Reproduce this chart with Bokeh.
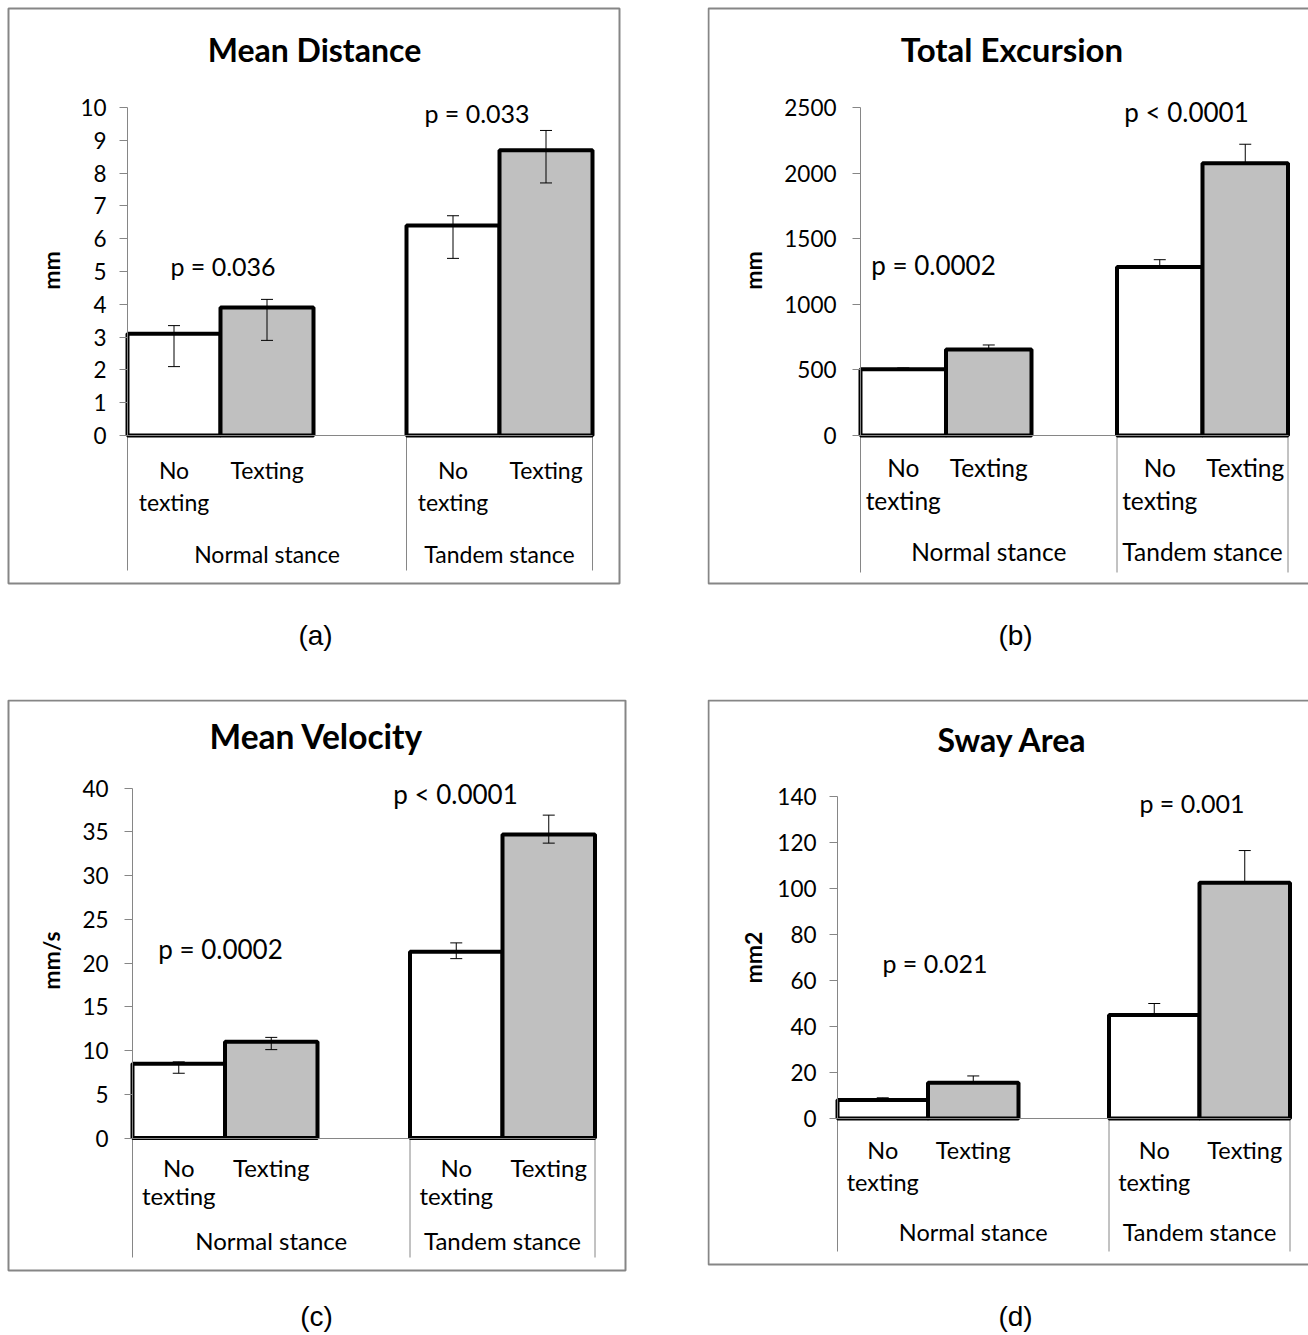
import math
from bokeh.plotting import figure
from bokeh.models import (Range1d, LinearAxis, FixedTicker, ColumnDataSource,
                          Whisker, TeeHead, BoxAnnotation)
from bokeh.layouts import row, column
from bokeh.core.properties import value
from bokeh.embed import file_html
from bokeh.resources import INLINE

# ---------------- data ----------------
stances = ["Normal stance", "Tandem stance"]
conditions = ["No texting", "Texting"]
group_slots = [3, 2]          # category slots per stance group (as drawn)

dist_title = "Mean Distance"
dist_unit = "mm"
dist_mean = [3.1, 3.9, 6.4, 8.7]
dist_low = [2.1, 2.9, 5.4, 7.7]
dist_high = [3.35, 4.15, 6.7, 9.3]
dist_ticks = [0, 1, 2, 3, 4, 5, 6, 7, 8, 9, 10]
dist_p = ["p = 0.036", "p = 0.033"]

exc_title = "Total Excursion"
exc_unit = "mm"
exc_mean = [505, 655, 1285, 2075]
exc_low = [505, 655, 1285, 2075]
exc_high = [515, 690, 1340, 2220]
exc_ticks = [0, 500, 1000, 1500, 2000, 2500]
exc_p = ["p = 0.0002", "p < 0.0001"]

vel_title = "Mean Velocity"
vel_unit = "mm/s"
vel_mean = [8.5, 11.0, 21.3, 34.7]
vel_low = [7.4, 10.1, 20.5, 33.7]
vel_high = [8.7, 11.5, 22.3, 36.9]
vel_ticks = [0, 5, 10, 15, 20, 25, 30, 35, 40]
vel_p = ["p = 0.0002", "p < 0.0001"]

sway_title = "Sway Area"
sway_unit = "mm2"
sway_mean = [8.0, 15.5, 45.0, 102.5]
sway_low = [8.0, 15.5, 45.0, 102.5]
sway_high = [9.0, 18.5, 50.0, 116.5]
sway_ticks = [0, 20, 40, 60, 80, 100, 120, 140]
sway_p = ["p = 0.021", "p = 0.001"]

captions = ["(a)", "(b)", "(c)", "(d)"]
bar_fills = ["white", "#c0c0c0"]

# ---------------- layout (page pixels) ----------------
GRAY = "#868686"
FONT = "Lato"
SHIFT = 0.43   # baseline correction (fraction of font size)

cfg_a = dict(ox=0, oy=0, W=707, H=699, axis_x=127, unit=93, zero_y=435, ppu=32.8,
             box=(8, 8, 619, 583), title=(314, 63), ylab=(60, 270),
             pv=[(222.5, 276), (476.5, 123)], lab_base=[479, 511], grp_base=563,
             sep_bottom=570, standoff=13, cap=(315, 647),
             fs_title=32, fs_lab=23, fs_p=25, fs_tick=22.5)
cfg_b = dict(ox=707, oy=0, W=601, H=699, axis_x=860, unit=85.5, zero_y=435, ppu=328 / 2500,
             box=(708, 8, 1360, 583), title=(1011.5, 63), ylab=(762, 270),
             pv=[(933, 276), (1186, 123)], lab_base=[478, 511], grp_base=562,
             sep_bottom=572, standoff=16, cap=(1015, 647),
             fs_title=33, fs_lab=24.5, fs_p=26, fs_tick=22.5)
cfg_c = dict(ox=0, oy=699, W=707, H=636, axis_x=132, unit=92.5, zero_y=1137.5, ppu=8.75,
             box=(8, 700, 625, 1270), title=(316, 750), ylab=(60, 960),
             pv=[(220, 960), (455, 805)], lab_base=[1177, 1205], grp_base=1250,
             sep_bottom=1257, standoff=16, cap=(316, 1328),
             fs_title=33.5, fs_lab=24, fs_p=26, fs_tick=22.5)
cfg_d = dict(ox=707, oy=699, W=601, H=636, axis_x=837, unit=90.5, zero_y=1118, ppu=2.3,
             box=(708, 700, 1360, 1264), title=(1012, 753), ylab=(762, 957),
             pv=[(934.5, 973), (1191.5, 813)], lab_base=[1160, 1192], grp_base=1242,
             sep_bottom=1251, standoff=13, cap=(1015, 1328),
             fs_title=32, fs_lab=23.5, fs_p=25, fs_tick=22.5)


def make_panel(cfg, title, unit_label, mean, low, high, ticks, pvals, caption, show_low):
    ox, oy, W, H = cfg["ox"], cfg["oy"], cfg["W"], cfg["H"]
    ax0, unit, zy, ppu = cfg["axis_x"], cfg["unit"], cfg["zero_y"], cfg["ppu"]

    def X(px):
        return (px - ax0) / unit

    def Y(py):
        return (zy - py) / ppu

    def YB(py, fs):      # data y for a text baseline at page pixel py
        return Y(py - SHIFT * fs)

    p = figure(width=W, height=H, x_range=Range1d(X(ox), X(ox + W)),
               y_range=Range1d(Y(oy + H), Y(oy)), x_axis_type=None, y_axis_type=None,
               toolbar_location=None, output_backend="svg", min_border=0, title=None,
               outline_line_color=None, background_fill_color="white",
               border_fill_color="white")

    l, t, r, b = cfg["box"]
    p.add_layout(BoxAnnotation(left=X(l), right=X(r), top=Y(t), bottom=Y(b),
                               fill_color=None, fill_alpha=0, line_color=GRAY,
                               line_width=2, line_alpha=1))

    # category positions
    xs, fills, starts = [], [], []
    s = 0
    for gi, g in enumerate(stances):
        starts.append(s)
        for ci, c in enumerate(conditions):
            xs.append(s + ci + 0.5)
            fills.append(bar_fills[ci])
        s += group_slots[gi]
    ends = starts[1:] + [s]

    # y axis
    yax = LinearAxis(fixed_location=0, bounds=(ticks[0], ticks[-1]),
                     ticker=FixedTicker(ticks=ticks), axis_line_color=GRAY,
                     major_tick_line_color=GRAY, major_tick_in=0, major_tick_out=8,
                     minor_tick_line_color=None, major_label_text_font=FONT,
                     major_label_text_font_size=f"{cfg['fs_tick']}px",
                     major_label_text_color="black",
                     major_label_standoff=cfg["standoff"])
    p.add_layout(yax, "left")
    # category axis line
    xax = LinearAxis(fixed_location=0, bounds=(0, s), ticker=FixedTicker(ticks=[]),
                     axis_line_color=GRAY, major_tick_line_color=None,
                     minor_tick_line_color=None, major_label_text_font_size="0px")
    p.add_layout(xax, "below")

    # group separators
    seps = [0] + ends
    p.segment(x0=seps, y0=[0] * len(seps), x1=seps, y1=[Y(cfg["sep_bottom"])] * len(seps),
              line_color=GRAY, line_width=1)

    src = ColumnDataSource(dict(x=xs, top=mean, low=low, high=high, fill=fills))
    p.vbar(x="x", width=1, top="top", bottom=0, fill_color="fill", line_color="black",
           line_width=4, source=src)
    p.add_layout(Whisker(source=src, base="x", lower="low", upper="high",
                         line_color="black", line_width=1,
                         level="annotation" if show_low else "underlay",
                         upper_head=TeeHead(size=12, line_color="black", line_width=1),
                         lower_head=TeeHead(size=12, line_color="black", line_width=1) if show_low else None))

    # category labels
    fl = cfg["fs_lab"]
    lab_x, lab_y, lab_t = [], [], []
    i = 0
    for gi, g in enumerate(stances):
        for ci, c in enumerate(conditions):
            for k, w in enumerate(c.split(" ")):
                lab_x.append(xs[i])
                lab_y.append(YB(cfg["lab_base"][k], fl))
                lab_t.append(w)
            i += 1
    p.text(x=lab_x, y=lab_y, text=lab_t, text_font=value(FONT), text_font_size=f"{fl}px",
           text_align="center", text_baseline="alphabetic", text_color="black")
    gx = [(a + e) / 2 for a, e in zip(starts, ends)]
    p.text(x=gx, y=[YB(cfg["grp_base"], fl)] * len(gx), text=stances, text_font=value(FONT),
           text_font_size=f"{fl}px", text_align="center", text_baseline="alphabetic",
           text_color="black")

    # title
    tx, ty = cfg["title"]
    ft = cfg["fs_title"]
    p.text(x=[X(tx)], y=[YB(ty, ft)], text=[title], text_font=value(FONT),
           text_font_style="bold", text_font_size=f"{ft}px", text_align="center",
           text_baseline="alphabetic", text_color="black")
    # unit label (rotated; baseline is on the right side of the glyphs)
    ux, uy = cfg["ylab"]
    fu = 23
    p.text(x=[X(ux - SHIFT * fu)], y=[Y(uy)], text=[unit_label], angle=math.pi / 2,
           text_font=value(FONT), text_font_style="bold", text_font_size=f"{fu}px",
           text_align="center", text_baseline="alphabetic", text_color="black")
    # p values
    fp = cfg["fs_p"]
    p.text(x=[X(a) for a, _ in cfg["pv"]], y=[YB(bb, fp) for _, bb in cfg["pv"]], text=pvals,
           text_font=value(FONT), text_font_size=f"{fp}px", text_align="center",
           text_baseline="alphabetic", text_color="black")
    # caption
    cx, cy = cfg["cap"]
    fc = 28
    p.text(x=[X(cx)], y=[YB(cy, fc)], text=[caption], text_font=value("Liberation Sans"),
           text_font_size=f"{fc}px", text_align="center", text_baseline="alphabetic",
           text_color="black")
    return p


pa = make_panel(cfg_a, dist_title, dist_unit, dist_mean, dist_low, dist_high, dist_ticks,
                dist_p, captions[0], True)
pb = make_panel(cfg_b, exc_title, exc_unit, exc_mean, exc_low, exc_high, exc_ticks,
                exc_p, captions[1], False)
pc = make_panel(cfg_c, vel_title, vel_unit, vel_mean, vel_low, vel_high, vel_ticks,
                vel_p, captions[2], True)
pd = make_panel(cfg_d, sway_title, sway_unit, sway_mean, sway_low, sway_high, sway_ticks,
                sway_p, captions[3], False)

layout = column(row(pa, pb), row(pc, pd))
open("out.html", "w").write(file_html(layout, INLINE))
